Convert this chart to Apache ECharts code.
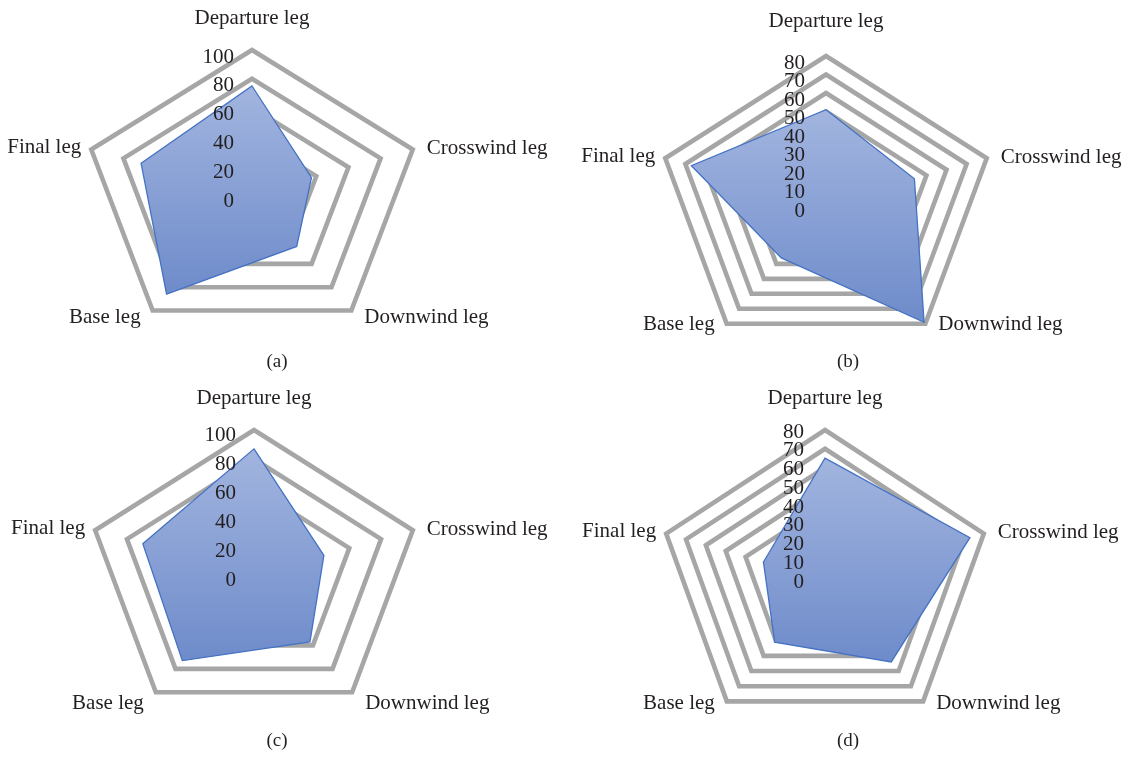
<!DOCTYPE html>
<html>
<head>
<meta charset="utf-8">
<script src="https://cdn.jsdelivr.net/npm/echarts@6/dist/echarts.min.js"></script>
<style>
  html, body { margin: 0; padding: 0; background: #ffffff; }
  #chart { width: 1130px; height: 758px; }
</style>
</head>
<body>
<div id="chart"></div>
<script>
// Circuit legs, clockwise from the top spoke
const categories = ['Departure leg', 'Crosswind leg', 'Downwind leg', 'Base leg', 'Final leg'];

// Radial scale ticks of each panel
const ticksA = [0, 20, 40, 60, 80, 100];
const ticksB = [0, 10, 20, 30, 40, 50, 60, 70, 80];
const ticksC = [0, 20, 40, 60, 80, 100];
const ticksD = [0, 10, 20, 30, 40, 50, 60, 70, 80];

// Scores per leg
const valuesA = [75, 37, 45, 86, 69];
const valuesB = [51, 44, 79, 36, 67];
const valuesC = [87, 44, 57, 73, 70];
const valuesD = [65, 73, 54, 41, 31];

const captions = ['(a)', '(b)', '(c)', '(d)'];

// Panel geometry: centre, horizontal / vertical radius of the outer ring,
// tick-label spacing and name offsets
const panels = [
  { values: valuesA, ticks: ticksA, cx: 252, cy: 194, rx: 169, ry: 144, labelGap: 18, labelDrop: 14, nameGap: 32, bottomDy: 7, capX: 277, capY: 362 },
  { values: valuesB, ticks: ticksB, cx: 826, cy: 204, rx: 169, ry: 148, labelGap: 21, labelDrop: 14, nameGap: 35, bottomDy: 1, capX: 848, capY: 362 },
  { values: valuesC, ticks: ticksC, cx: 254, cy: 575, rx: 167, ry: 145, labelGap: 18, labelDrop: 10, nameGap: 32, bottomDy: 11, capX: 277, capY: 741 },
  { values: valuesD, ticks: ticksD, cx: 825, cy: 580, rx: 167, ry: 150, labelGap: 21, labelDrop: 4, nameGap: 32, bottomDy: 2, capX: 848, capY: 741 }
];

// Spoke directions (angle measured clockwise from straight up)
const spokes = categories.map((c, k) => {
  const a = (k * 2 * Math.PI) / categories.length;
  return { sin: Math.sin(a), cos: Math.cos(a) };
});

// Where each leg name sits relative to the outer ring vertex
const namePlacement = [
  { align: 'center', dx: 0, side: 'top' },
  { align: 'left', dx: 14, dy: -1 },
  { align: 'left', dx: 13, side: 'bottom' },
  { align: 'right', dx: -12, side: 'bottom' },
  { align: 'right', dx: -10, dy: -2 }
];

const TEXT = '#231f20';
const FONT = "'Liberation Serif', 'DejaVu Serif', serif";
const RING = '#a6a6a6';

const grid = [], xAxis = [], yAxis = [], series = [], graphic = [];

panels.forEach((p, i) => {
  const max = p.ticks[p.ticks.length - 1];
  const step = p.ticks[1] - p.ticks[0];
  // the vertical axis runs one step past the outer ring so that every
  // tick label up to the maximum keeps its place
  const yMax = max + step;
  const yRadius = p.ry * yMax / max;

  grid.push({
    left: p.cx - p.rx, top: p.cy - yRadius, width: 2 * p.rx, height: 2 * yRadius,
    containLabel: false, outerBoundsMode: 'none'
  });
  xAxis.push({ gridIndex: i, type: 'value', min: -max, max: max, show: false });
  yAxis.push({
    gridIndex: i, type: 'value', min: -yMax, max: yMax, interval: step,
    position: 'left', offset: -p.rx, z: 10,
    axisLine: { show: false }, axisTick: { show: false }, splitLine: { show: false },
    axisLabel: {
      show: true, margin: p.labelGap, color: TEXT, fontFamily: FONT, fontSize: 21,
      hideOverlap: false,
      verticalAlign: 'top', lineHeight: p.labelDrop,
      formatter: v => (v >= 0 && v <= max ? String(v) : '')
    }
  });

  // concentric rings, one per tick above zero
  series.push({
    type: 'custom', coordinateSystem: 'cartesian2d', xAxisIndex: i, yAxisIndex: i,
    silent: true, clip: false, z: 1,
    data: p.ticks.filter(t => t > 0).map(t => [t]),
    renderItem: (params, api) => {
      const r = api.value(0);
      return {
        type: 'polygon',
        shape: { points: spokes.map(s => api.coord([r * s.sin, r * s.cos])) },
        style: { fill: 'none', stroke: RING, lineWidth: 4.6, lineJoin: 'miter' }
      };
    }
  });

  // score polygon
  series.push({
    type: 'custom', coordinateSystem: 'cartesian2d', xAxisIndex: i, yAxisIndex: i,
    silent: true, clip: false, z: 2,
    data: [p.values],
    renderItem: (params, api) => {
      const pts = spokes.map((s, k) => {
        const v = api.value(k);
        return api.coord([v * s.sin, v * s.cos]);
      });
      return {
        type: 'polygon',
        shape: { points: pts },
        style: {
          fill: new echarts.graphic.LinearGradient(0, 0, 0, 1, [
            { offset: 0, color: '#a2b5df' },
            { offset: 1, color: '#6e8bca' }
          ]),
          stroke: '#4472c4', lineWidth: 1.3, lineJoin: 'miter'
        }
      };
    }
  });

  // leg names at the outer vertices
  series.push({
    type: 'custom', coordinateSystem: 'cartesian2d', xAxisIndex: i, yAxisIndex: i,
    silent: true, clip: false, z: 3,
    data: categories.map((c, k) => [k]),
    renderItem: (params, api) => {
      const k = params.dataIndex;
      const s = spokes[k];
      const pl = namePlacement[k];
      const pt = api.coord([max * s.sin, max * s.cos]);
      const dy = pl.side === 'top' ? -p.nameGap : pl.side === 'bottom' ? p.bottomDy : pl.dy;
      return {
        type: 'text',
        x: pt[0] + pl.dx, y: pt[1] + dy,
        style: {
          text: categories[k], fill: TEXT, fontFamily: FONT, fontSize: 21,
          align: pl.align, textAlign: pl.align,
          verticalAlign: 'middle', textVerticalAlign: 'middle'
        }
      };
    }
  });

  graphic.push({
    type: 'text', x: p.capX, y: p.capY, silent: true,
    style: {
      text: captions[i], fill: TEXT, fontFamily: FONT, fontSize: 19,
      align: 'center', textAlign: 'center',
      verticalAlign: 'middle', textVerticalAlign: 'middle'
    }
  });
});

const chart = echarts.init(document.getElementById('chart'), null, { renderer: 'canvas' });
chart.setOption({
  backgroundColor: '#ffffff',
  animation: false,
  grid, xAxis, yAxis, series, graphic
});
</script>
</body>
</html>
